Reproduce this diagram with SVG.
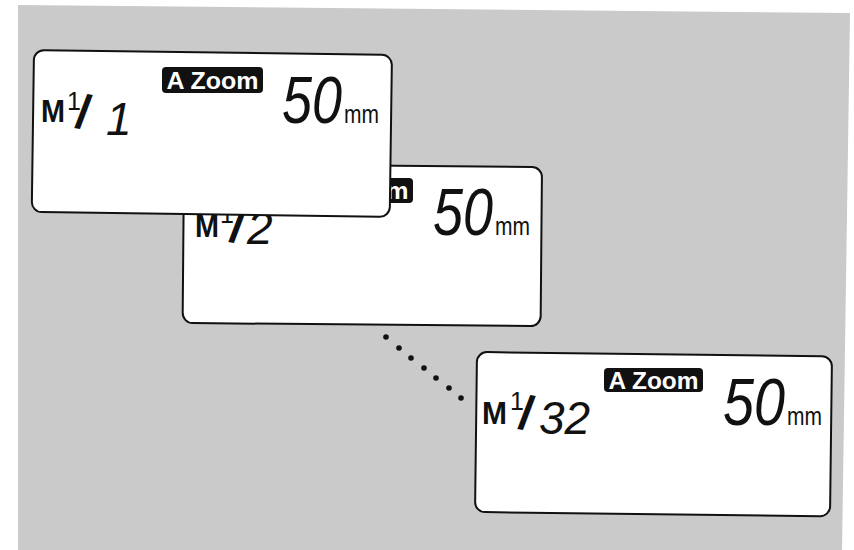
<svg xmlns="http://www.w3.org/2000/svg" width="854" height="550" viewBox="0 0 854 550">
<style>
.bg{fill:#cacaca}
.panel{fill:#fff;stroke:#111;stroke-width:2}
.badge{fill:#111}
.badge-t{fill:#fff;font-family:"Liberation Sans",Arial,sans-serif;font-weight:bold;font-size:24px}
.lbl{font-family:"Liberation Sans",Arial,sans-serif;fill:#111}
.m{font-weight:bold;font-size:32px}
.sup{font-size:25px}
.sl{font-weight:bold;font-size:48px}
.seg{font-family:"Liberation Sans",Arial,sans-serif;font-style:italic;fill:#111}
.big{font-size:66px}
.small{font-size:46px}
.mm{font-family:"Liberation Sans",Arial,sans-serif;font-size:25px;fill:#111}
.dot{fill:#111}
</style>
<polygon class="bg" points="18,5 850,13 842,550 18,550"/>

<g id="connectors">
<circle class="dot" cx="386" cy="337" r="2.8"/>
<circle class="dot" cx="399" cy="348" r="2.8"/>
<circle class="dot" cx="411" cy="358" r="2.8"/>
<circle class="dot" cx="424" cy="368" r="2.8"/>
<circle class="dot" cx="436" cy="378" r="2.8"/>
<circle class="dot" cx="449" cy="388" r="2.8"/>
<circle class="dot" cx="461" cy="398" r="2.8"/>
</g>

<g id="panel3">
<rect class="panel" x="477" y="352" width="355" height="160" rx="10" transform="rotate(0.7 477 352)"/>
<rect class="badge" x="604" y="368" width="99" height="24" rx="4"/>
<text class="badge-t" x="653.5" y="389" text-anchor="middle" textLength="90" lengthAdjust="spacingAndGlyphs">A Zoom</text>
<text class="lbl"><tspan class="m" x="482" y="424" textLength="25" lengthAdjust="spacingAndGlyphs">M</tspan><tspan class="sup" x="510" y="410">1</tspan><tspan class="sl" x="517" y="428" rotate="10">/</tspan><tspan class="seg small" x="539" y="434">32</tspan></text>
<text class="seg big" x="723" y="425" textLength="62" lengthAdjust="spacingAndGlyphs">50</text>
<text class="mm" x="787" y="425" textLength="35" lengthAdjust="spacingAndGlyphs">mm</text>
</g>

<g id="panel2">
<rect class="panel" x="184" y="164" width="358" height="159" rx="10" transform="rotate(0.5 184 164)"/>
<rect class="badge" x="312" y="178" width="101" height="25" rx="4"/>
<text class="badge-t" x="362.5" y="199" text-anchor="middle" textLength="92" lengthAdjust="spacingAndGlyphs">A Zoom</text>
<text class="lbl"><tspan class="m" x="195" y="237" textLength="24" lengthAdjust="spacingAndGlyphs">M</tspan><tspan class="sup" x="220" y="223">1</tspan><tspan class="sl" x="228" y="241" rotate="10">/</tspan><tspan class="seg small" x="247" y="244">2</tspan></text>
<text class="seg big" x="433" y="235" textLength="60" lengthAdjust="spacingAndGlyphs">50</text>
<text class="mm" x="495" y="235" textLength="35" lengthAdjust="spacingAndGlyphs">mm</text>
</g>

<g id="panel1">
<rect class="panel" x="34" y="50" width="358" height="162" rx="10" transform="rotate(0.8 34 50)"/>
<rect class="badge" x="162" y="67" width="101" height="26" rx="4"/>
<text class="badge-t" x="212.5" y="89" text-anchor="middle" textLength="92" lengthAdjust="spacingAndGlyphs">A Zoom</text>
<text class="lbl"><tspan class="m" x="41" y="122" textLength="24" lengthAdjust="spacingAndGlyphs">M</tspan><tspan class="sup" x="67" y="110">1</tspan><tspan class="sl" x="74" y="127" rotate="10">/</tspan><tspan class="seg small" x="106" y="135">1</tspan></text>
<text class="seg big" x="282" y="123" textLength="60" lengthAdjust="spacingAndGlyphs">50</text>
<text class="mm" x="344" y="123" textLength="35" lengthAdjust="spacingAndGlyphs">mm</text>
</g>
</svg>
